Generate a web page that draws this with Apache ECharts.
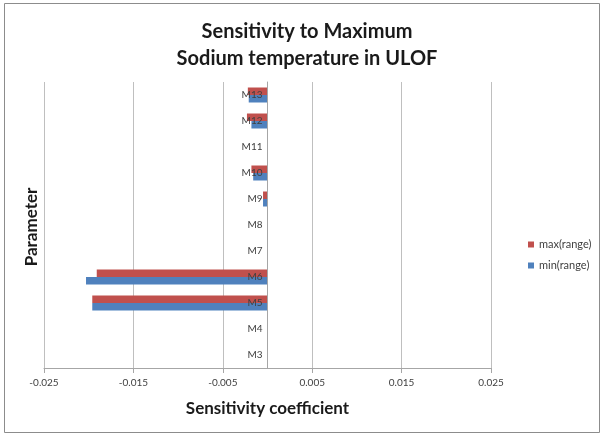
<!DOCTYPE html>
<html><head><meta charset="utf-8">
<script src="https://cdn.jsdelivr.net/npm/echarts@6/dist/echarts.min.js"></script>
<style>html,body{margin:0;padding:0;background:#fff}#c{width:602px;height:435px}</style>
</head><body><div id="c"></div>
<script>
const categories = ['M3','M4','M5','M6','M7','M8','M9','M10','M11','M12','M13'];
const maxRange = [0, 0, -0.0196, -0.0191, 0, 0, -0.0005, -0.0018, 0, -0.0023, -0.0022];
const minRange = [0, 0, -0.0196, -0.0203, 0, 0, -0.0005, -0.0016, 0, -0.0018, -0.0021];
const xTicks = [-0.025, -0.015, -0.005, 0.005, 0.015, 0.025];
const tickLabels = ['-0.025','-0.015','-0.005','0.005','0.015','0.025'];

const chart = echarts.init(document.getElementById('c'), null, {renderer:'canvas'});
const font = 'Lato, "Open Sans", sans-serif';
chart.setOption({
  animation: false,
  backgroundColor: '#fff',
  title: {
    text: 'Sensitivity to Maximum\nSodium temperature in ULOF',
    left: 302, top: 13, textAlign: 'center',
    textStyle: {fontFamily: font, fontSize: 20, fontWeight: 'bold', color: '#1a1a1a', lineHeight: 27}
  },
  legend: {
    orient: 'vertical', left: 523, top: 234, itemGap: 10,
    itemWidth: 6, itemHeight: 6, icon: 'rect',
    data: ['max(range)','min(range)'],
    textStyle: {fontFamily: font, fontSize: 11, color: '#404040'}
  },
  grid: {left: 44, right: 111, top: 82, bottom: 67, containLabel: false, outerBoundsMode: 'none'},
  xAxis: {
    type: 'value', min: -0.025, max: 0.025,
    name: 'Sensitivity coefficient', nameLocation: 'middle', nameGap: 32,
    nameTextStyle: {fontFamily: font, fontSize: 17, fontWeight: 'bold', color: '#1a1a1a'},
    axisLine: {show: true, lineStyle: {color: '#a6a6a6'}},
    axisTick: {show: true, length: 5, lineStyle: {color: '#a6a6a6'}, customValues: xTicks},
    axisLabel: {customValues: xTicks, formatter: v => tickLabels[xTicks.findIndex(t => Math.abs(t - v) < 1e-9)] ?? '',
      fontFamily: font, fontSize: 10, color: '#404040', margin: 10},
    splitLine: {show: true, lineStyle: {color: '#bfbfbf'}}
  },
  yAxis: {
    type: 'category', data: categories,
    offset: -223.5, z: 10,
    axisLine: {show: true, onZero: false, lineStyle: {color: '#a6a6a6'}},
    axisTick: {show: false},
    axisLabel: {fontFamily: font, fontSize: 10, color: '#404040', margin: 5},
    splitLine: {show: false}
  },
  series: [
    {name: 'max(range)', type: 'bar', data: maxRange, barWidth: 7.5, barGap: '0%', itemStyle: {color: '#C0504D'}},
    {name: 'min(range)', type: 'bar', data: minRange, barWidth: 7.5, barGap: '0%', itemStyle: {color: '#4F81BD'}}
  ],
  graphic: [
    {type: 'rect', shape: {x: 4.5, y: 3.5, width: 595, height: 429}, style: {fill: null, stroke: '#8c8c8c', lineWidth: 1}, silent: true, z: -1},
    {type: 'text', x: 32, y: 227, rotation: Math.PI / 2, style: {text: 'Parameter', font: 'bold 17px Lato, sans-serif', fill: '#1a1a1a', align: 'center', verticalAlign: 'middle'}}
  ]
});
</script></body></html>
